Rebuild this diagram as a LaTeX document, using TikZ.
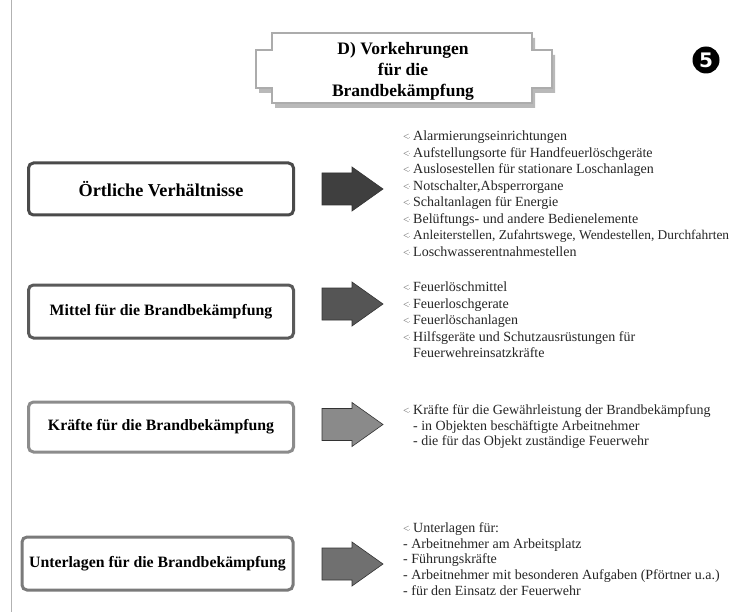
\documentclass[tikz,border=0pt]{standalone}
\usepackage{fontspec}
\setmainfont{Liberation Serif}
\setsansfont{DejaVu Sans}

% list bullets and indents
\newcommand\lb{\strut\makebox[10pt][l]{\textcolor{black!55}{\fontsize{11}{11}\selectfont<\kern-0.5pt\raisebox{2.5pt}{\fontsize{7}{7}\selectfont.}}}}
\newcommand\lind{\strut\hspace*{10pt}}

\definecolor{arrA}{HTML}{3F3F3F}
\definecolor{arrB}{HTML}{555555}
\definecolor{arrC}{HTML}{8A8A8A}
\definecolor{arrD}{HTML}{707070}
\definecolor{boxA}{HTML}{4A4A4A}
\definecolor{boxB}{HTML}{5A5A5A}
\definecolor{boxC}{HTML}{8C8C8C}
\definecolor{boxD}{HTML}{7A7A7A}

\tikzset{
  lbox/.style={draw, line width=3pt, rounded corners=5pt, fill=white, inner sep=0pt,
    font=\bfseries\fontsize{15.8}{19}\selectfont},
  listtext/.style={anchor=north west, inner sep=0pt, align=left, text=black!85},
  blockarrow/.pic={\path[pic actions] (0,-16) -- (30,-16) -- (30,-22) -- (61,0)
      -- (30,22) -- (30,16) -- (0,16) -- cycle;},
  arrowstyle/.style={draw=black!80, line width=0.6pt},
}

\begin{document}
\begin{tikzpicture}[x=1pt, y=-1pt]
\useasboundingbox (0,0) rectangle (735,612);
\fill[white] (0,0) rectangle (735,612);

% page edge
\draw[gray!60, line width=1pt] (11,0) -- (11,612);

% title plaque: shadow, then face
\fill[gray!55, shift={(3,5)}] (272,33) -- (532,33) -- (532,50) -- (552,50) -- (552,88)
  -- (532,88) -- (532,103) -- (272,103) -- (272,88) -- (256,88) -- (256,50) -- (272,50) -- cycle;
\filldraw[fill=white, draw=gray!65, line width=2.5pt] (272,33) -- (532,33) -- (532,50) -- (552,50) -- (552,88)
  -- (532,88) -- (532,103) -- (272,103) -- (272,88) -- (256,88) -- (256,50) -- (272,50) -- cycle;
\node[align=center, inner sep=0pt, font=\bfseries\fontsize{17.5}{21}\selectfont] (title) at (403,71)
  {D) Vorkehrungen\\für die\\Brandbekämpfung};

% number badge
\node[circle, fill=black, minimum size=27pt, inner sep=0pt, text=white,
  font=\sffamily\bfseries\fontsize{20}{20}\selectfont] (num) at (706,60) {5};

% left boxes
\node[lbox, draw=boxA, minimum width=265pt, minimum height=52pt,
  font=\bfseries\fontsize{18.2}{21}\selectfont] (b1) at (161,189) {Örtliche Verhältnisse};
\node[lbox, draw=boxB, minimum width=265pt, minimum height=53pt] (b2) at (161,311.5) {Mittel für die Brandbekämpfung};
\node[lbox, draw=boxC, minimum width=265pt, minimum height=50pt] (b3) at (161,427) {Kräfte für die Brandbekämpfung};
\node[lbox, draw=boxD, minimum width=271pt, minimum height=53pt] (b4) at (157.5,563.5) {Unterlagen für die Brandbekämpfung};

% block arrows
\pic[fill=arrA, arrowstyle] (a1) at (322,189) {blockarrow};
\pic[fill=arrB, arrowstyle] (a2) at (322,304) {blockarrow};
\pic[fill=arrC, arrowstyle] (a3) at (322,424.5) {blockarrow};
\pic[fill=arrD, arrowstyle] (a4) at (322,564) {blockarrow};

% item lists
\node[listtext, font=\fontsize{14}{16.5}\selectfont] (l1) at (403,129) {%
\lb Alarmierungseinrichtungen\\
\lb Aufstellungsorte für Handfeuerlöschgeräte\\
\lb Auslosestellen für stationare Loschanlagen\\
\lb Notschalter,Absperrorgane\\
\lb Schaltanlagen für Energie\\
\lb Belüftungs- und andere Bedienelemente\\
\lb {\fontsize{13.4}{16.5}\selectfont Anleiterstellen, Zufahrtswege, Wendestellen, Durchfahrten}\\
\lb Loschwasserentnahmestellen};

\node[listtext, font=\fontsize{14}{16.5}\selectfont] (l2) at (403,280) {%
\lb Feuerlöschmittel\\
\lb Feuerloschgerate\\
\lb Feuerlöschanlagen\\
\lb Hilfsgeräte und Schutzausrüstungen für\\
\lind Feuerwehreinsatzkräfte};

\node[listtext, font=\fontsize{14}{15.5}\selectfont] (l3) at (403,403.6) {%
\lb Kräfte für die Gewährleistung der Brandbekämpfung\\
\lind - in Objekten beschäftigte Arbeitnehmer\\
\lind - die für das Objekt zuständige Feuerwehr};

\node[listtext, font=\fontsize{14}{15.6}\selectfont] (l4) at (403,521.6) {%
\lb Unterlagen für:\\
\strut - Arbeitnehmer am Arbeitsplatz\\
\strut - Führungskräfte\\
\strut - Arbeitnehmer mit besonderen Aufgaben (Pförtner u.a.)\\
\strut - für den Einsatz der Feuerwehr};
\end{tikzpicture}
\end{document}
